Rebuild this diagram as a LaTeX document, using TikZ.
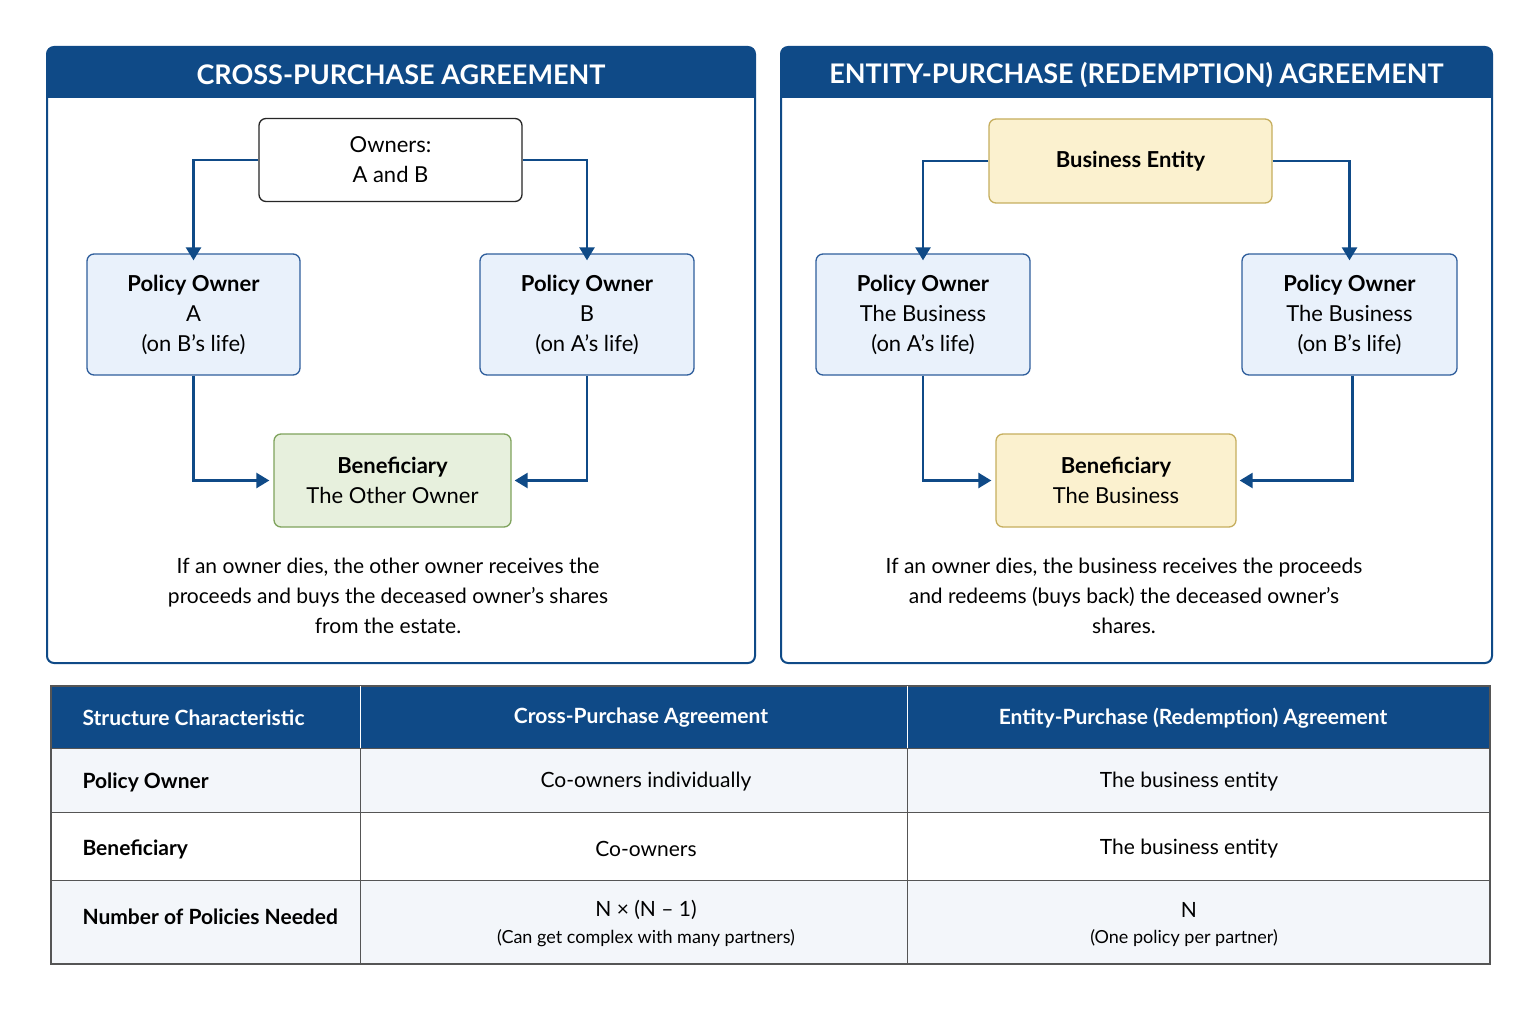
\documentclass[tikz,border=0pt]{standalone}
\usepackage{fontspec}
\setmainfont{Lato}
\usetikzlibrary{arrows.meta}
\definecolor{navy}{HTML}{0F4A87}
\definecolor{bfill}{HTML}{E9F1FB}
\definecolor{bdraw}{HTML}{2F5E9C}
\definecolor{gfill}{HTML}{E7F0DD}
\definecolor{gdraw}{HTML}{7FA35C}
\definecolor{yfill}{HTML}{FBF1CF}
\definecolor{ydraw}{HTML}{C6AE5E}
\definecolor{rowl}{HTML}{F3F6FA}
\definecolor{grid}{HTML}{555555}
\begin{document}
\begin{tikzpicture}[x=1pt,y=-1pt,
 box/.style={rounded corners=7pt,line width=1.3pt,align=center,inner sep=0pt,font=\fontsize{22}{30}\selectfont},
 blue/.style={box,fill=bfill,draw=bdraw},
 arr/.style={draw=navy,line width=2.5pt,-{Triangle[length=13pt,width=15pt]}},
 note/.style={align=center,font=\fontsize{21}{30}\selectfont},
 th/.style={text=white,font=\fontsize{21}{26}\selectfont\bfseries},
 td/.style={font=\fontsize{21}{26}\selectfont}]
\useasboundingbox (0,0) rectangle (1536,1011);
% panels
\foreach \xa/\xb/\t/\n in {47/755/CROSS-PURCHASE AGREEMENT/pl,781/1492/ENTITY-PURCHASE (REDEMPTION) AGREEMENT/pr}{
 \draw[navy,line width=2pt,rounded corners=7pt,fill=white] (\xa,47) rectangle (\xb,663);
 \fill[navy,rounded corners=7pt] (\xa,47) rectangle (\xb,98);
 \fill[navy] (\xa,80) rectangle (\xb,98);
 \node[text=white,font=\fontsize{27}{30}\selectfont\bfseries] (\n) at ({(\xa+\xb)/2},75) {\t};
}
% left diagram
\node[box,fill=white,draw=black!85,minimum width=263pt,minimum height=83pt] (own) at (390.5,160) {Owners:\\A and B};
\node[blue,minimum width=213pt,minimum height=121pt] (pa) at (193.5,314.5) {\textbf{Policy Owner}\\A\\(on B’s life)};
\node[blue,minimum width=214pt,minimum height=121pt] (pb) at (587,314.5) {\textbf{Policy Owner}\\B\\(on A’s life)};
\node[box,fill=gfill,draw=gdraw,minimum width=237pt,minimum height=93pt] (ben) at (392.5,480.5) {\textbf{Beneficiary}\\The Other Owner};
\draw[arr] (own.west) -| ([yshift=-7pt]pa.north);
\draw[arr] (own.east) -| ([yshift=-7pt]pb.north);
\draw[arr] (pa.south) |- ([xshift=-4pt]ben.west);
\draw[arr] (pb.south) |- ([xshift=3pt]ben.east);
\node[note] (nl) at (388,596) {If an owner dies, the other owner receives the\\proceeds and buys the deceased owner’s shares\\from the estate.};
% right diagram
\node[box,fill=yfill,draw=ydraw,minimum width=283pt,minimum height=84pt] (be) at (1130.5,161) {\textbf{Business Entity}};
\node[blue,minimum width=214pt,minimum height=121pt] (pc) at (923,314.5) {\textbf{Policy Owner}\\The Business\\(on A’s life)};
\node[blue,minimum width=215pt,minimum height=121pt] (pd) at (1349.5,314.5) {\textbf{Policy Owner}\\The Business\\(on B’s life)};
\node[box,fill=yfill,draw=ydraw,minimum width=240pt,minimum height=93pt] (ben2) at (1116,480.5) {\textbf{Beneficiary}\\The Business};
\draw[arr] (be.west) -| ([yshift=-7pt]pc.north);
\draw[arr] (be.east) -| ([yshift=-7pt]pd.north);
\draw[arr] (pc.south) |- ([xshift=-4pt]ben2.west);
\draw[arr] ([xshift=3pt]pd.south) |- ([xshift=3pt]ben2.east);
\node[note] (nr) at (1124,596) {If an owner dies, the business receives the proceeds\\and redeems (buys back) the deceased owner’s\\shares.};
% table
\fill[navy] (51,686) rectangle (1490,748);
\fill[rowl] (51,748) rectangle (1490,812);
\fill[white] (51,812) rectangle (1490,880);
\fill[rowl] (51,880) rectangle (1490,964);
\draw[grid,line width=1pt] (51,748) -- (1490,748) (51,812) -- (1490,812) (51,880) -- (1490,880);
\draw[grid,line width=1.2pt] (51,686) rectangle (1490,964);
\draw[grid,line width=1pt] (360,748) -- (360,964) (907,748) -- (907,964);
\draw[white,line width=1pt] (360,686) -- (360,748) (907,686) -- (907,748);
\node[th,anchor=west] (h1) at (79,718) {Structure Characteristic};
\node[th] (h2) at (641,718) {Cross-Purchase Agreement};
\node[th] (h3) at (1193,718) {Entity-Purchase (Redemption) Agreement};
\node[td,anchor=west] (r1) at (79,782) {\bfseries Policy Owner};
\node[td] (r1b) at (646,782) {Co-owners individually};
\node[td] (r1c) at (1189,782) {The business entity};
\node[td,anchor=west] (r2) at (79,849) {\bfseries Beneficiary};
\node[td] (r2b) at (646,849) {Co-owners};
\node[td] (r2c) at (1189,849) {The business entity};
\node[td,anchor=west] (r3) at (79,917) {\bfseries Number of Policies Needed};
\node[td] (r3b) at (646,910) {N × (N – 1)};
\node[font=\fontsize{18}{22}\selectfont] (r3bs) at (646,938) {(Can get complex with many partners)};
\node[td] (r3c) at (1189,910) {N};
\node[font=\fontsize{18}{22}\selectfont] (r3cs) at (1184,938) {(One policy per partner)};
\end{tikzpicture}
\end{document}
